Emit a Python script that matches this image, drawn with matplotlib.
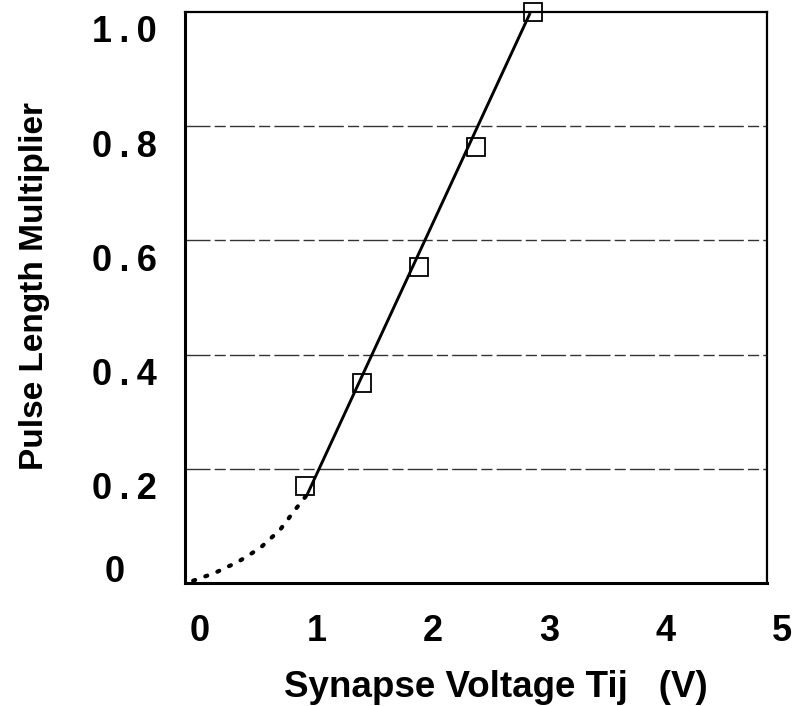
import matplotlib
matplotlib.use("Agg")
import matplotlib.pyplot as plt
from matplotlib.transforms import ScaledTranslation

plt.rcParams['font.family'] = ['Liberation Sans', 'DejaVu Sans']

# measured data points (squares)
voltage = [1.03, 1.52, 2.01, 2.50, 2.99]
multiplier = [0.17, 0.351, 0.553, 0.763, 1.0]

# solid fitted line (end points)
fit_x = [1.05, 2.96]
fit_y = [0.155, 0.996]

# dotted extrapolation toward origin
extrap_x = [0.07, 0.26, 0.455, 0.644, 0.816, 0.945, 1.05]
extrap_y = [0.004, 0.018, 0.037, 0.061, 0.093, 0.128, 0.155]

x_ticks = [0, 1, 2, 3, 4, 5]
x_ticklabels = ['0', '1', '2', '3', '4', '5']
y_ticks = [0, 0.2, 0.4, 0.6, 0.8, 1.0]
y_ticklabels = ['0', '0\u2009.\u20092', '0\u2009.\u20094', '0\u2009.\u20096',
                '0\u2009.\u20098', '1\u2009.\u20090']

fig = plt.figure(figsize=(7.93, 7.06), dpi=100)
ax = fig.add_axes([185/793, 123/706, 582/793, 571/706])

ax.plot(extrap_x, extrap_y, color='black', lw=3.0, linestyle=(0, (0.5, 2.6)),
        dash_capstyle='round', zorder=3)
ax.plot(fit_x, fit_y, color='black', lw=2.1, zorder=3)
ax.plot(voltage, multiplier, linestyle='none', marker='s', markersize=13.5,
        markerfacecolor='none', markeredgecolor='black', markeredgewidth=1.3,
        zorder=4, clip_on=False)

ax.set_xlim(0, 5)
ax.set_ylim(0, 1.0)

for yv in y_ticks[1:-1]:
    ax.axhline(yv, color='#333333', lw=1.0, linestyle=(0, (18, 3, 8, 3)), zorder=1)

ax.set_xticks(x_ticks)
ax.set_xticklabels(x_ticklabels, fontsize=26, fontweight='bold')
ax.set_yticks(y_ticks)
ax.set_yticklabels(y_ticklabels, fontsize=26, fontweight='bold')
ax.tick_params(axis='both', length=0)
ax.tick_params(axis='x', pad=22)
ax.tick_params(axis='y', pad=20)

for lab in ax.get_xticklabels():
    lab.set_transform(lab.get_transform() + ScaledTranslation(15/100, 0, fig.dpi_scale_trans))
for lab in ax.get_yticklabels():
    if lab.get_text() == '0':
        off = ScaledTranslation(-32/100, 14/100, fig.dpi_scale_trans)
    else:
        off = ScaledTranslation(0, -17/100, fig.dpi_scale_trans)
    lab.set_transform(lab.get_transform() + off)

ax.set_xlabel('Synapse Voltage Tij   (V)', fontsize=26.5, fontweight='bold')
ax.xaxis.set_label_coords(0.534, -0.152)
ax.set_ylabel('Pulse Length Multiplier', fontsize=24, fontweight='bold')
ax.yaxis.set_label_coords(-0.232, 0.52)

ax.spines['left'].set_linewidth(2.2)
ax.spines['bottom'].set_linewidth(2.2)
ax.spines['top'].set_linewidth(1.6)
ax.spines['right'].set_linewidth(1.6)

fig.savefig('out.png', dpi=100)
